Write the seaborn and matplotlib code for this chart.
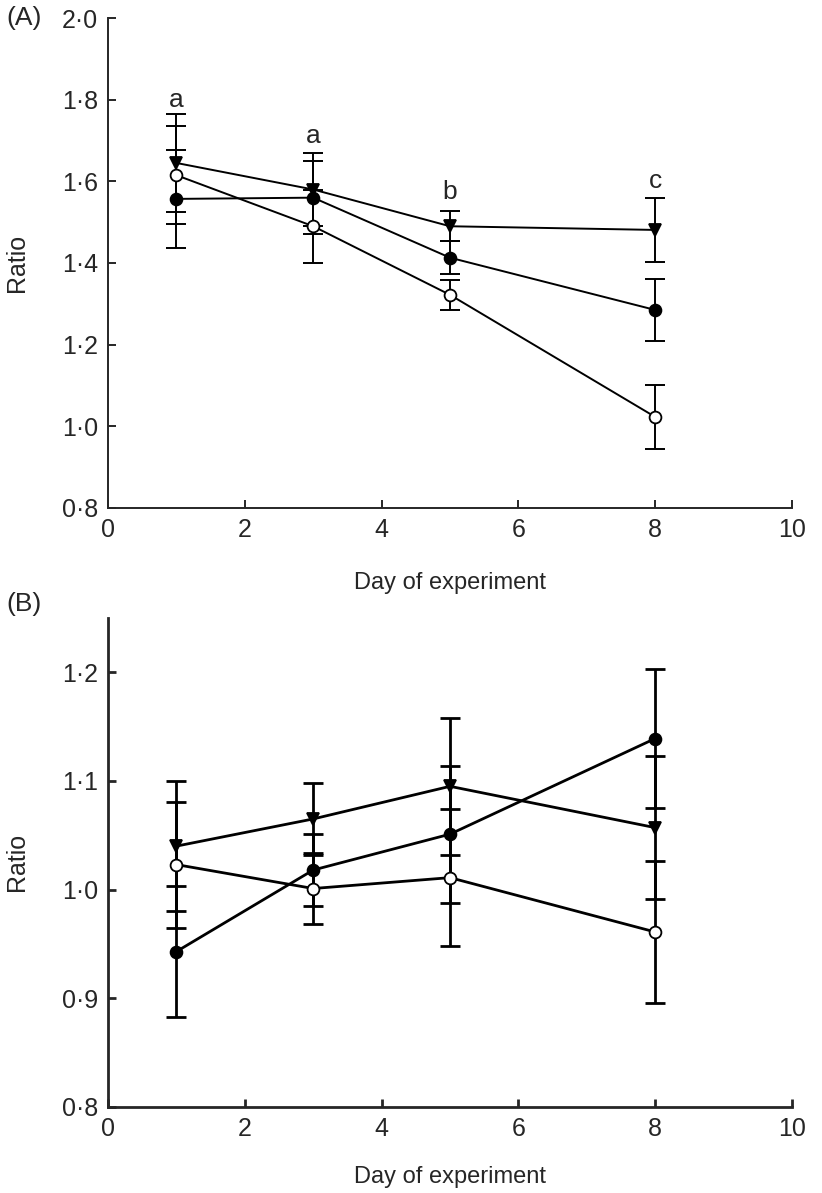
import numpy as np
import pandas as pd
import matplotlib
matplotlib.use('Agg')
import matplotlib.pyplot as plt
from matplotlib.ticker import FuncFormatter
import seaborn as sns

days = [1, 3, 5, 8]

# Panel A
aTriangle = [1.645, 1.580, 1.490, 1.481]
aTriangleErr = [0.120, 0.090, 0.037, 0.078]
aFilled = [1.557, 1.560, 1.413, 1.285]
aFilledErr = [0.120, 0.090, 0.040, 0.077]
aOpen = [1.615, 1.490, 1.322, 1.023]
aOpenErr = [0.120, 0.090, 0.037, 0.078]
aLetters = ['a', 'a', 'b', 'c']
aLetterY = [1.800, 1.710, 1.575, 1.600]

# Panel B
bTriangle = [1.040, 1.065, 1.095, 1.057]
bTriangleErr = [0.060, 0.033, 0.063, 0.066]
bFilled = [0.943, 1.018, 1.051, 1.139]
bFilledErr = [0.060, 0.033, 0.063, 0.064]
bOpen = [1.023, 1.001, 1.011, 0.961]
bOpenErr = [0.058, 0.033, 0.063, 0.065]

sns.set_style('ticks')
plt.rcParams['font.family'] = ['Liberation Sans', 'DejaVu Sans']
fs = 18

fig = plt.figure(figsize=(8.22, 11.93), dpi=100)
axA = fig.add_axes([0.1314, 0.5742, 0.8321, 0.4107])
axB = fig.add_axes([0.1314, 0.0721, 0.8321, 0.4100])

def dotFormat(v, pos):
    return f'{v:.1f}'.replace('.', '\u00b7')

def drawPanel(ax, series, lw, ylim, yticks, xlabelY):
    for vals, errs, marker, face in series:
        ax.errorbar(days, vals, yerr=errs, fmt='none', ecolor='black',
                    elinewidth=lw, capsize=7, capthick=lw, zorder=2)
    for vals, errs, marker, face in series:
        df = pd.DataFrame({'day': days, 'ratio': vals})
        sns.lineplot(data=df, x='day', y='ratio', ax=ax, color='black',
                     linewidth=lw, marker=marker, markersize=8.5,
                     markerfacecolor=face, markeredgecolor='black',
                     markeredgewidth=1.3, zorder=3)
    ax.set_xlim(0, 10)
    ax.set_ylim(*ylim)
    ax.set_xticks([0, 2, 4, 6, 8, 10])
    ax.set_yticks(yticks)
    ax.yaxis.set_major_formatter(FuncFormatter(dotFormat))
    ax.tick_params(direction='in', length=6, width=lw, labelsize=fs, pad=7)
    for side in ['left', 'bottom']:
        ax.spines[side].set_linewidth(lw)
    sns.despine(ax=ax)
    ax.set_xlabel('Day of experiment', fontsize=17)
    ax.set_ylabel('Ratio', fontsize=18)
    ax.xaxis.label.set_va('center')
    ax.xaxis.set_label_coords(0.5, xlabelY)
    ax.yaxis.set_label_coords(-0.115, 0.5)

drawPanel(axA,
          [(aTriangle, aTriangleErr, 'v', 'black'),
           (aFilled, aFilledErr, 'o', 'black'),
           (aOpen, aOpenErr, 'o', 'white')],
          1.4, (0.8, 2.0), np.arange(0.8, 2.01, 0.2), -0.153)
for d, letter, y in zip(days, aLetters, aLetterY):
    axA.text(d, y, letter, ha='center', va='center', fontsize=fs + 1)

drawPanel(axB,
          [(bTriangle, bTriangleErr, 'v', 'black'),
           (bFilled, bFilledErr, 'o', 'black'),
           (bOpen, bOpenErr, 'o', 'white')],
          2.0, (0.8, 1.25), np.arange(0.8, 1.21, 0.1), -0.143)

fig.text(0.008, 0.985, '(A)', fontsize=fs + 1, va='center')
fig.text(0.008, 0.494, '(B)', fontsize=fs + 1, va='center')

fig.savefig('out.png', dpi=100)
